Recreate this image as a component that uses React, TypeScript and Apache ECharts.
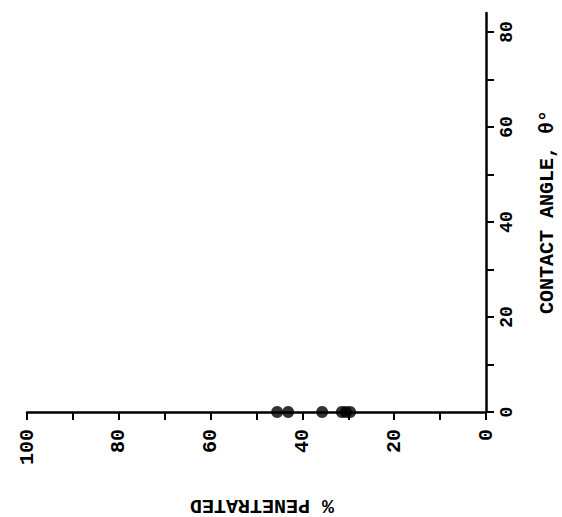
import React, { useEffect, useRef } from "react";
import * as echarts from "echarts";

const xTitle = "% PENETRATED";
const yTitle = "CONTACT ANGLE, θ°";
const xLabelValues = [100, 80, 60, 40, 20, 0];
const yLabelValues = [0, 20, 40, 60, 80];
const penetrated = [45.5, 43.1, 35.7, 31.4, 30.5, 29.6];
const contactAngle = [0, 0, 0, 0, 0, 0];

const FONT = "'Courier New', 'Liberation Mono', monospace";

export default function App() {
  const ref = useRef<HTMLDivElement>(null);
  useEffect(() => {
    if (!ref.current) return;
    const chart = echarts.init(ref.current, null, { renderer: "svg" });
    const data = penetrated.map((p, i) => [p, contactAngle[i]]);
    chart.setOption({
      animation: false,
      backgroundColor: "#fff",
      grid: { left: 27, right: 76, top: 13, bottom: 105 },
      xAxis: {
        type: "value",
        inverse: true,
        min: 0,
        max: 100,
        interval: 10,
        position: "bottom",
        axisLine: { show: true, onZero: false, lineStyle: { color: "#000", width: 2.5 } },
        axisTick: { show: true, inside: false, length: 8, lineStyle: { color: "#000", width: 2 } },
        splitLine: { show: false },
        axisLabel: {
          rotate: 90,
          margin: 17,
          color: "#000",
          fontFamily: FONT,
          fontWeight: "bold",
          fontSize: 20,
          formatter: (v: number) => (xLabelValues.includes(v) ? String(v) : ""),
        },
      },
      yAxis: {
        type: "value",
        position: "right",
        min: 0,
        max: 84,
        interval: 10,
        axisLine: { show: true, onZero: false, lineStyle: { color: "#000", width: 2.5 } },
        axisTick: { show: true, inside: false, length: 8, lineStyle: { color: "#000", width: 2 } },
        splitLine: { show: false },
        axisLabel: {
          rotate: 90,
          margin: 12,
          color: "#000",
          fontFamily: FONT,
          fontWeight: "bold",
          fontSize: 18,
          showMaxLabel: false,
          formatter: (v: number) => (yLabelValues.includes(v) ? String(v) : ""),
        },
      },
      graphic: [
        {
          type: "text",
          x: 547,
          y: 212,
          rotation: Math.PI / 2,
          style: {
            text: yTitle,
            fill: "#000",
            font: `bold 20px ${FONT}`,
            textAlign: "center",
            textVerticalAlign: "middle",
          },
        },
        {
          type: "text",
          x: 262,
          y: 505,
          rotation: Math.PI,
          style: {
            text: xTitle,
            fill: "#000",
            font: `bold 20px ${FONT}`,
            textAlign: "center",
            textVerticalAlign: "middle",
          },
        },
      ],
      series: [
        {
          type: "scatter",
          data,
          symbol: "circle",
          symbolSize: 12,
          clip: false,
          itemStyle: { color: "#000" },
          z: 5,
        },
      ],
    });
    return () => chart.dispose();
  }, []);
  return (
    <div
      ref={ref}
      style={{ position: "absolute", left: 0, top: 0, width: 562, height: 517 }}
    />
  );
}
